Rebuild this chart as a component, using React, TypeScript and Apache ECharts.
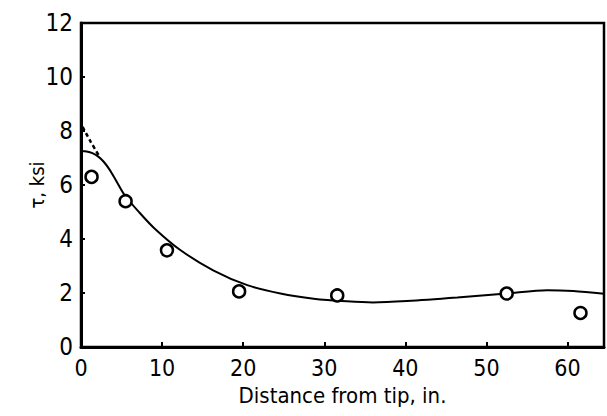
import React, { useEffect, useRef } from "react";
import * as echarts from "echarts";

const xTicks = [0, 10, 20, 30, 40, 50, 60];
const yTicks = [0, 2, 4, 6, 8, 10, 12];

const pointX = [1.3, 5.5, 10.6, 19.5, 31.6, 52.5, 61.6];
const pointY = [6.3, 5.4, 3.58, 2.06, 1.91, 1.98, 1.26];

const curveX = [0, 0.7, 1.4, 2.1, 2.8, 3.5, 4.3, 5.4, 7.2, 9.1, 12.2, 16.3, 20.5, 24.6, 28.7, 32.8, 36, 40.2, 46.4, 52.5, 57.5, 60.7, 64.5];
const curveY = [7.26, 7.24, 7.18, 7.06, 6.86, 6.58, 6.18, 5.62, 4.98, 4.38, 3.6, 2.84, 2.29, 1.98, 1.79, 1.69, 1.65, 1.7, 1.83, 1.98, 2.1, 2.07, 1.97];

const dashX = [0.2, 1.2, 2.3];
const dashY = [8.15, 7.6, 7.04];

const FONT = "'Liberation Sans Narrow', 'DejaVu Sans Condensed', 'Liberation Sans', sans-serif";

export default function App() {
  const ref = useRef<HTMLDivElement>(null);
  useEffect(() => {
    if (!ref.current) return;
    const chart = echarts.init(ref.current, undefined, { renderer: "svg" });
    chart.setOption({
      animation: false,
      backgroundColor: "#fff",
      grid: {
        left: 81,
        right: 3,
        top: 23,
        bottom: 69,
        show: true,
        borderColor: "#000",
        borderWidth: 2.5,
      },
      xAxis: {
        type: "value",
        min: 0,
        max: 64.5,
        interval: 10,
        name: "Distance from tip, in.",
        nameLocation: "middle",
        nameGap: 37,
        nameTextStyle: { fontFamily: FONT, fontSize: 22, color: "#000" },
        axisLine: { show: true, lineStyle: { color: "#000", width: 3 } },
        axisTick: { show: true, inside: true, length: 5, lineStyle: { color: "#000", width: 2 } },
        axisLabel: {
          fontFamily: FONT,
          fontSize: 23,
          color: "#000",
          margin: 9,
          showMaxLabel: false,
          formatter: (v: number) => (xTicks.includes(v) ? String(v) : ""),
        },
        splitLine: { show: false },
      },
      yAxis: {
        type: "value",
        min: 0,
        max: 12,
        interval: 2,
        name: "τ, ksi",
        nameLocation: "middle",
        nameGap: 34,
        nameMoveOverlap: false,
        nameTextStyle: { fontFamily: FONT, fontSize: 20, color: "#000" },
        axisLine: { show: true, lineStyle: { color: "#000", width: 3 } },
        axisTick: { show: true, inside: true, length: 4, lineStyle: { color: "#000", width: 2 } },
        axisLabel: {
          fontFamily: FONT,
          fontSize: 24,
          color: "#000",
          margin: 8,
          formatter: (v: number) => (yTicks.includes(v) ? String(v) : ""),
        },
        splitLine: { show: false },
      },
      series: [
        {
          type: "line",
          data: curveX.map((x, i) => [x, curveY[i]]),
          smooth: 0.3,
          showSymbol: false,
          lineStyle: { color: "#000", width: 2 },
          z: 2,
        },
        {
          type: "line",
          data: dashX.map((x, i) => [x, dashY[i]]),
          smooth: 0.3,
          showSymbol: false,
          lineStyle: { color: "#000", width: 2.5, type: [4, 3] },
          z: 2,
        },
        {
          type: "scatter",
          data: pointX.map((x, i) => [x, pointY[i]]),
          symbol: "circle",
          symbolSize: 12,
          itemStyle: { color: "#fff", borderColor: "#000", borderWidth: 2.5, opacity: 1 },
          z: 3,
        },
      ],
    });
    return () => chart.dispose();
  }, []);
  return (
    <div
      ref={ref}
      style={{ position: "absolute", left: 0, top: 0, width: 607, height: 416 }}
    />
  );
}
